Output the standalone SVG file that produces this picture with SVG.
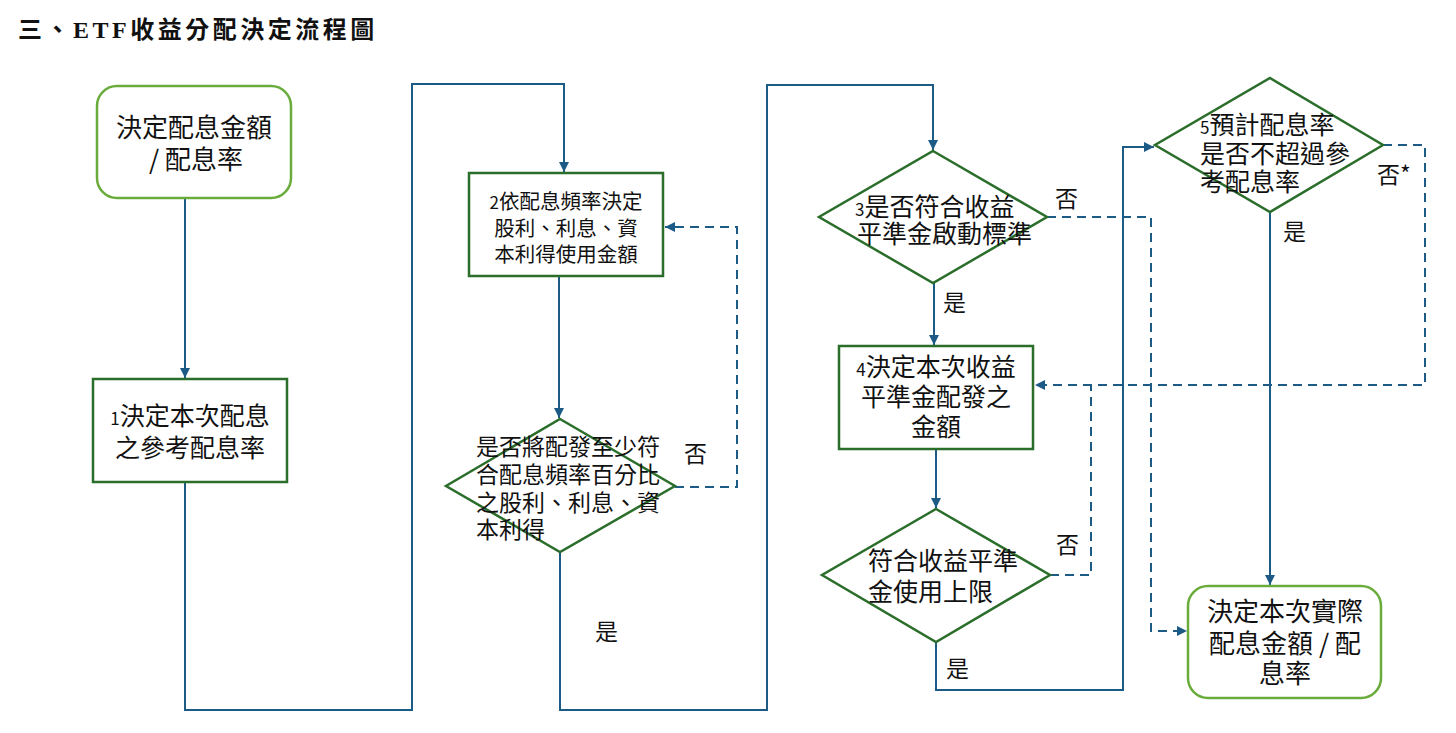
<svg xmlns="http://www.w3.org/2000/svg" width="1456" height="733" viewBox="0 0 1456 733">
<style>
.title{font-family:"Liberation Serif","Noto Sans CJK TC",serif;font-size:24px;font-weight:bold;letter-spacing:3.5px;fill:#111}
.t{font-family:"Noto Sans CJK TC","Noto Sans CJK SC",sans-serif;font-size:25px;fill:#111}
.f20{font-size:20.5px}
.f23{font-size:23px}
.f26{font-size:26px}
.s{font-size:17px}
.round{fill:#fff;stroke:#6aac3c;stroke-width:2.5}
.box{fill:#fff;stroke:#2b6e2b;stroke-width:2.5}
.dia{fill:none;stroke:#2b6e2b;stroke-width:2.5}
.c{fill:none;stroke:#1d5b87;stroke-width:2}
.d{fill:none;stroke:#1d5b87;stroke-width:2;stroke-dasharray:9,6}
</style>
<defs>
<marker id="ah" viewBox="0 0 10 10" refX="10" refY="5" markerWidth="5" markerHeight="5" orient="auto" markerUnits="strokeWidth">
<path d="M0,0 L10,5 L0,10 z" fill="#1d5b87"/>
</marker>
</defs>
<rect width="1456" height="733" fill="#fff"/>
<text class="title" x="18" y="38">三、ETF收益分配決定流程圖</text>

<g id="connectors">
<path class="c" d="M185,198 V378" marker-end="url(#ah)"/>
<path class="c" d="M185,482 V710 H412 V84 H564 V172" marker-end="url(#ah)"/>
<path class="c" d="M559,276 V418" marker-end="url(#ah)"/>
<path class="d" d="M675,487 H737 V227 H665" marker-end="url(#ah)"/>
<path class="c" d="M560,552 V710 H767 V85 H933 V150" marker-end="url(#ah)"/>
<path class="c" d="M934,283 V345" marker-end="url(#ah)"/>
<path class="d" d="M1047,217 H1151 V631 H1187" marker-end="url(#ah)"/>
<path class="c" d="M936,449 V508" marker-end="url(#ah)"/>
<path class="d" d="M1050,575 H1091 V385"/>
<path class="c" d="M936,642 V690 H1123 V147 H1154" marker-end="url(#ah)"/>
<path class="d" d="M1383,145 H1425 V385 H1035" marker-end="url(#ah)"/>
<path class="c" d="M1270,212 V585" marker-end="url(#ah)"/>
</g>

<g id="start">
<rect class="round" x="97" y="86" width="194" height="112" rx="20"/>
<text class="t f26" text-anchor="middle"><tspan x="194" y="137">決定配息金額</tspan><tspan x="196" y="169">/ 配息率</tspan></text>
</g>

<g id="step1">
<rect class="box" x="93" y="379" width="194" height="103"/>
<text class="t" text-anchor="middle"><tspan x="190" y="425"><tspan class="s">1</tspan>決定本次配息</tspan><tspan x="190" y="457">之參考配息率</tspan></text>
</g>

<g id="step2">
<rect class="box" x="469" y="173" width="194" height="103"/>
<text class="t f20" text-anchor="middle"><tspan x="566" y="209"><tspan class="s">2</tspan>依配息頻率決定</tspan><tspan x="566" y="236">股利、利息、資</tspan><tspan x="566" y="262">本利得使用金額</tspan></text>
</g>

<g id="decision2">
<polygon class="dia" points="560,419 675,486 560,552 446,486"/>
<text class="t f23"><tspan x="476" y="455">是否將配發至少符</tspan><tspan x="476" y="483">合配息頻率百分比</tspan><tspan x="476" y="511">之股利、利息、資</tspan><tspan x="476" y="538">本利得</tspan></text>
<text class="t f23" x="684" y="462">否</text>
<text class="t f23" x="595" y="640">是</text>
</g>

<g id="decision3">
<polygon class="dia" points="933,151 1047,217 933,283 819,217"/>
<text class="t"><tspan x="855" y="216"><tspan class="s">3</tspan>是否符合收益</tspan><tspan x="857" y="243">平準金啟動標準</tspan></text>
<text class="t f23" x="1055" y="207">否</text>
<text class="t f23" x="943" y="311">是</text>
</g>

<g id="step4">
<rect class="box" x="839" y="346" width="194" height="103"/>
<text class="t" text-anchor="middle"><tspan x="936" y="376"><tspan class="s">4</tspan>決定本次收益</tspan><tspan x="936" y="406">平準金配發之</tspan><tspan x="936" y="436">金額</tspan></text>
</g>

<g id="decision4">
<polygon class="dia" points="936,509 1050,575 936,642 822,575"/>
<text class="t"><tspan x="868" y="570">符合收益平準</tspan><tspan x="868" y="601">金使用上限</tspan></text>
<text class="t f23" x="1056" y="553">否</text>
<text class="t f23" x="946" y="677">是</text>
</g>

<g id="decision5">
<polygon class="dia" points="1270,78 1383,145 1270,212 1155,145"/>
<text class="t"><tspan x="1200" y="134"><tspan class="s">5</tspan>預計配息率</tspan><tspan x="1200" y="163">是否不超過參</tspan><tspan x="1200" y="191">考配息率</tspan></text>
<text class="t f23" x="1377" y="183">否*</text>
<text class="t f23" x="1283" y="240">是</text>
</g>

<g id="end">
<rect class="round" x="1188" y="586" width="193" height="112" rx="20"/>
<text class="t f26" text-anchor="middle"><tspan x="1285" y="621">決定本次實際</tspan><tspan x="1285" y="653">配息金額 / 配</tspan><tspan x="1285" y="683">息率</tspan></text>
</g>
</svg>
